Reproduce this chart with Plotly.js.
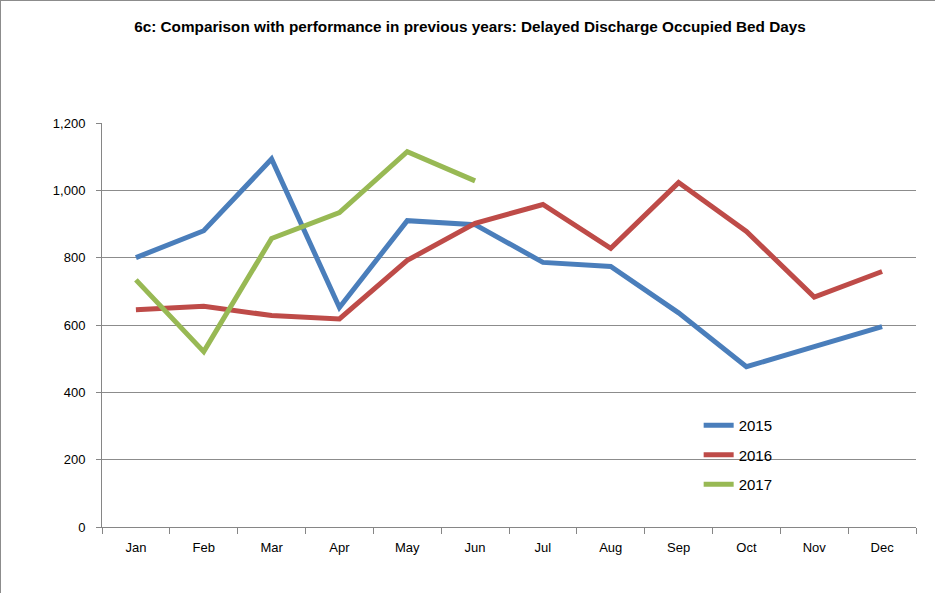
<!DOCTYPE html>
<html>
<head>
<meta charset="utf-8">
<script src="https://cdn.plot.ly/plotly-3.0.1.min.js"></script>
<style>
  html, body { margin: 0; padding: 0; background: #fff; }
  #wrap { position: relative; width: 935px; height: 593px; overflow: hidden; }
  #chart { width: 935px; height: 593px; }
  #frame { position: absolute; left: 0; top: 0; width: 940px; height: 600px;
           border-left: 1px solid #8c8c8c; border-top: 1px solid #8c8c8c; pointer-events: none; }
</style>
</head>
<body>
<div id="wrap"><div id="chart"></div><div id="frame"></div></div>
<script>
const months = ["Jan","Feb","Mar","Apr","May","Jun","Jul","Aug","Sep","Oct","Nov","Dec"];
const values2015 = [800, 880, 1093, 652, 910, 898, 786, 774, 636, 476, 536, 595];
const values2016 = [645, 656, 628, 618, 792, 902, 958, 828, 1023, 878, 683, 759];
const values2017 = [734, 521, 857, 934, 1115, 1028];
const seriesNames = ["2015", "2016", "2017"];
const seriesColors = ["#4A7EBB", "#BE4B48", "#98B954"];

const font = "Liberation Sans, Arial, sans-serif";
const allValues = [values2015, values2016, values2017];

const traces = allValues.map((vals, i) => ({
  x: months.slice(0, vals.length),
  y: vals,
  name: seriesNames[i],
  legendgroup: "g" + i,
  type: "scatter",
  mode: "lines",
  line: { color: seriesColors[i], width: 5 },
  hoverinfo: "x+y+name"
}));

const layout = {
  width: 935, height: 593,
  margin: { l: 102, r: 19, t: 123, b: 66 },
  paper_bgcolor: "#ffffff",
  plot_bgcolor: "#ffffff",
  title: {
    text: "6c: Comparison with performance in previous years: Delayed Discharge Occupied Bed Days",
    font: { family: font, size: 15.3, color: "#000000", weight: "bold" },
    x: 470 / 935, xref: "container", xanchor: "center",
    y: 1 - 27 / 593, yref: "container", yanchor: "middle"
  },
  xaxis: {
    type: "category",
    categoryorder: "array",
    categoryarray: months,
    range: [-0.5, 11.5],
    showgrid: false,
    showline: true, linecolor: "#868686", linewidth: 1,
    ticks: "outside", tickson: "boundaries", ticklen: 6, tickcolor: "#868686", tickwidth: 1,
    tickfont: { family: font, size: 13, color: "#000000" },
    ticklabelstandoff: 8,
    zeroline: false,
    fixedrange: true
  },
  yaxis: {
    range: [0, 1200],
    dtick: 200,
    tickformat: ",d",
    showgrid: true, gridcolor: "#8c8c8c", gridwidth: 1,
    showline: true, linecolor: "#868686", linewidth: 1,
    ticks: "outside", ticklen: 5, tickcolor: "#868686", tickwidth: 1,
    tickfont: { family: font, size: 13, color: "#000000" },
    ticklabelstandoff: 8,
    zeroline: false,
    fixedrange: true
  },
  showlegend: true,
  legend: {
    x: 0.733, xanchor: "left",
    y: 0.292, yanchor: "top",
    bgcolor: "rgba(0,0,0,0)",
    font: { family: font, size: 15, color: "#000000" },
    tracegroupgap: 7,
    itemwidth: 30
  }
};

Plotly.newPlot("chart", traces, layout, { displayModeBar: false, staticPlot: true });
</script>
</body>
</html>
